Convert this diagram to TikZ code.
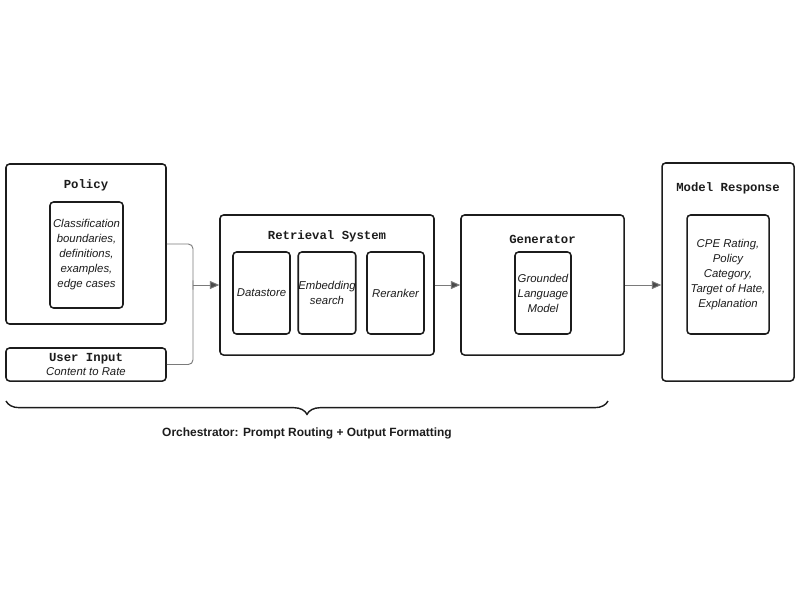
\documentclass[tikz,border=0pt]{standalone}
\usepackage{fontspec}
\setmainfont{Liberation Sans}
\newfontfamily\monofont{Liberation Mono}
\usetikzlibrary{arrows.meta,positioning,calc,decorations.pathreplacing}
\definecolor{paper}{HTML}{FFFFFF}
\definecolor{ink}{HTML}{1C1C1C}
\definecolor{wire}{HTML}{7A7A7A}
\definecolor{tip}{HTML}{4A4A4A}
\newcommand{\RowY}{-8.55}
\newcommand{\PartY}{-8.79}
\newcommand{\MergeX}{5.79}
\newcommand{\BraceY}{-12.03}

\begin{document}
\begin{tikzpicture}[
    font=\fontsize{9.7}{12.8}\selectfont, ink,
    frame/.style={draw=ink, line width=1.3pt, rounded corners=3pt, fill=paper},
    part/.style={draw=ink, line width=1.3pt, rounded corners=3pt, fill=paper, align=center, inner sep=0pt, font=\fontsize{9.7}{12.8}\selectfont\itshape},
    heading/.style={font=\monofont\bfseries\fontsize{10.5}{12}\selectfont},
    link/.style={draw=wire, line width=0.8pt, rounded corners=4pt},
    feed/.style={draw=wire, line width=0.8pt, -{Triangle[length=2.8mm, width=2.4mm, fill=tip]}},
    brace/.style={decorate, decoration={brace, mirror, amplitude=0.4cm}, draw=ink, line width=1.2pt},
  ]
\useasboundingbox (0,0) rectangle (24,-18);

% --- Inputs: policy and user content ------------------------------------------
\node[frame, minimum width=4.8cm, minimum height=4.8cm] (pol) at (2.58, -7.32) {};
\node[heading] at ($(pol.north)+(0,-0.66)$) {Policy};
\node[part, minimum width=2.19cm, minimum height=3.18cm] (polbox) at (2.595, -7.65)
  {Classification\\ boundaries,\\ definitions,\\ examples,\\ edge cases};
\node[frame, minimum width=4.8cm, minimum height=0.99cm, align=center, inner sep=0pt] (usr) at (2.58, -10.935)
  {{\monofont\bfseries\fontsize{10.5}{12}\selectfont User Input}\\[-1pt] {\itshape Content to Rate}};

% --- Retrieval system ----------------------------------------------------------
\node[frame, minimum width=6.42cm, minimum height=4.2cm] (ret) at (9.81, \RowY) {};
\node[heading] at ($(ret.north)+(0,-0.66)$) {Retrieval System};
\foreach \x/\name/\what in {7.845/store/{Datastore}, 9.81/embed/{Embedding\\ search}, 11.865/rerank/{Reranker}} {
  \node[part, minimum width=1.71cm, minimum height=2.46cm] (\name) at (\x, \PartY) {\what};
}

% --- Generator -----------------------------------------------------------------
\node[frame, minimum width=4.89cm, minimum height=4.2cm] (gen) at (16.275, \RowY) {};
\node[heading] at ($(gen.north)+(0,-0.75)$) {Generator};
\node[part, minimum width=1.68cm, minimum height=2.46cm] (glm) at (16.29, \PartY)
  {Grounded\\ Language\\ Model};

% --- Output --------------------------------------------------------------------
\node[frame, minimum width=3.96cm, minimum height=6.54cm] (resp) at (21.84, -8.16) {};
\node[heading] at ($(resp.north)+(0,-0.78)$) {Model Response};
\node[part, minimum width=2.46cm, minimum height=3.57cm] (out) at (21.84, -8.235)
  {CPE Rating,\\ Policy\\ Category,\\ Target of Hate,\\ Explanation};

% --- Connectors ----------------------------------------------------------------
\coordinate (merge) at (\MergeX, \RowY);
\draw[link] (pol.east) -| ($(merge)+(0,-0.15)$) |- (merge);
\draw[link] (usr.east) -| ($(merge)+(0,0.15)$) |- (merge);
\draw[feed] (merge) -- (ret.west);
\draw[feed] (ret.east) -- (gen.west);
\draw[feed] (gen.east) -- (gen.east -| resp.west);

% --- Orchestrator brace ----------------------------------------------------------
\coordinate (bl) at (0.18, \BraceY);
\coordinate (br) at (18.24, \BraceY);
\draw[brace] (bl) -- (br);
\node[font=\bfseries\fontsize{10.2}{12}\selectfont] (orch) at (9.21, -12.99) {Orchestrator: Prompt Routing + Output Formatting};

\end{tikzpicture}
\end{document}
